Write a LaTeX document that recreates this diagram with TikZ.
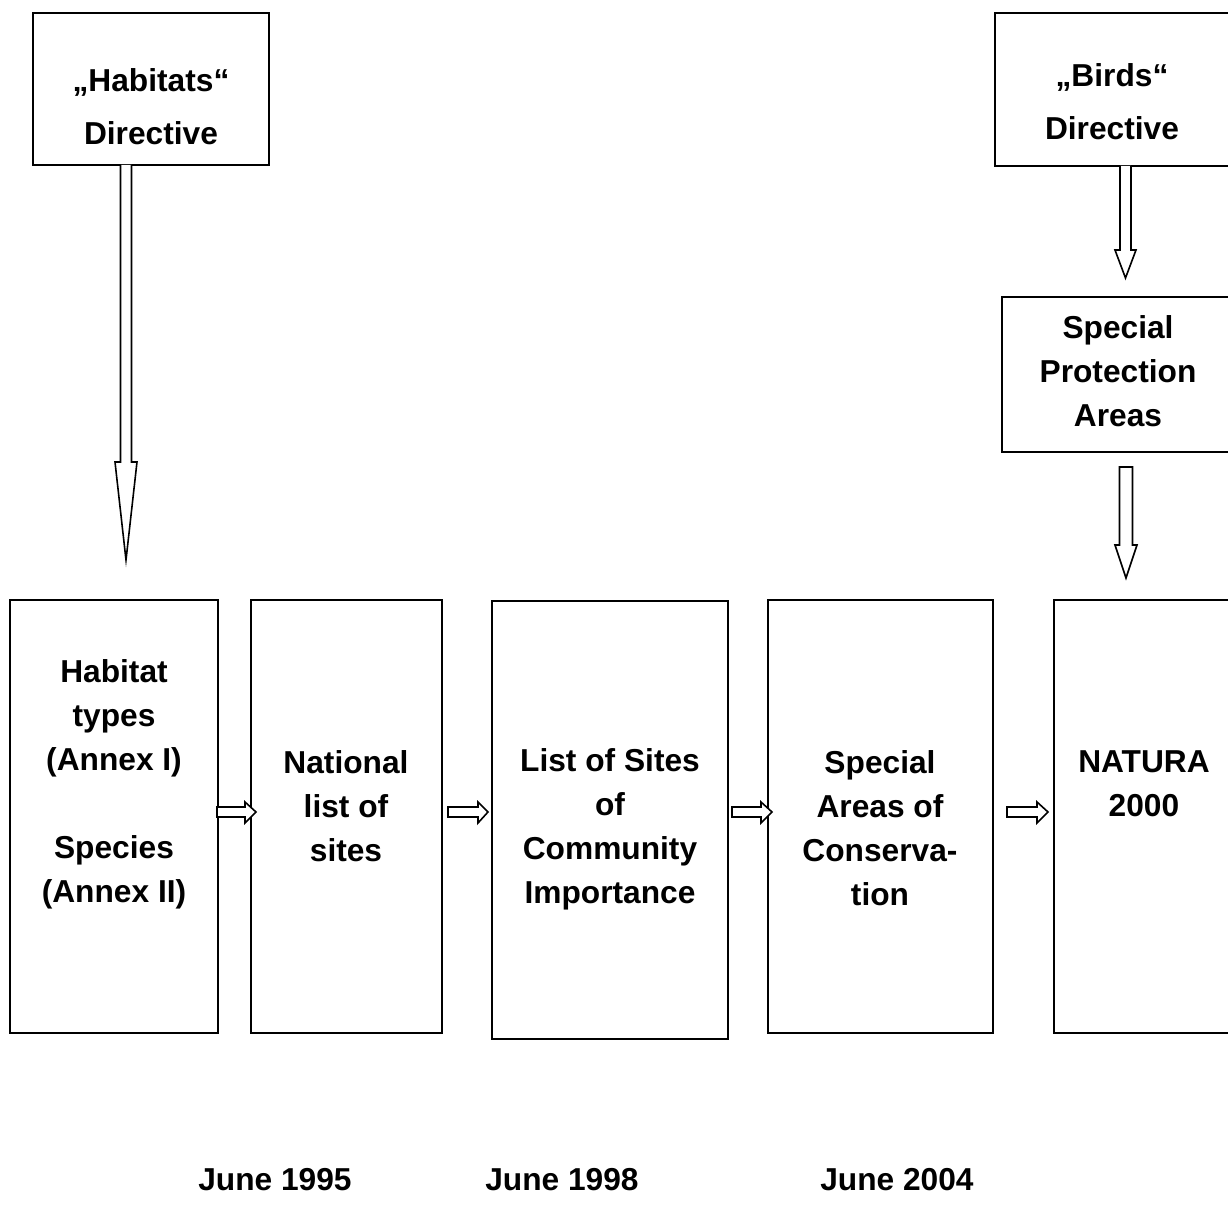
\documentclass[tikz,border=0pt]{standalone}
\usepackage{fontspec}
\setmainfont{Liberation Sans}
\begin{document}
\begin{tikzpicture}[x=0.5pt,y=-0.5pt,
  box/.style={draw=black,line width=0.8pt},
  lbl/.style={align=center,font=\bfseries\fontsize{15.85pt}{22pt}\selectfont,inner sep=0pt},
  lblw/.style={align=center,font=\bfseries\fontsize{15.85pt}{26.5pt}\selectfont,inner sep=0pt},
  blk/.style={draw=black,line width=0.8pt,fill=white,line join=miter}]
\useasboundingbox (0,0) rectangle (1228,1218);
\clip (0,0) rectangle (1228,1218);
% boxes
\draw[box] (33,13) rectangle (269,165) coordinate (habbox);
\draw[box] (995,13) rectangle (1240,166);
\draw[box] (1002,297) rectangle (1240,452);
\draw[box] (10,600) rectangle (218,1033);
\draw[box] (251,600) rectangle (442,1033);
\draw[box] (492,601) rectangle (728,1039);
\draw[box] (768,600) rectangle (993,1033);
\draw[box] (1054,600) rectangle (1240,1033);
% vertical block arrows
\draw[blk] (120.5,165) -- (120.5,462) -- (115,462) -- (126,560) -- (137,462) -- (131.5,462) -- (131.5,165);
\draw[blk] (1120,166) -- (1120,250) -- (1115,250) -- (1125.5,278) -- (1136,250) -- (1131,250) -- (1131,166);
\draw[blk] (1119.5,467) -- (1119.5,545) -- (1115,545) -- (1126,578) -- (1137,545) -- (1132.5,545) -- (1132.5,467) -- cycle;
% horizontal block arrows
\foreach \a/\b/\c in {217/245/256, 448/478/488, 732/761/772, 1007/1037/1048}{
  \draw[blk] (\a,807) -- (\b,807) -- (\b,802) -- (\c,812) -- (\b,823) -- (\b,817) -- (\a,817) -- cycle;
}
% texts
\node[lblw] (t1) at (151,106.5) {„Habitats“\\Directive};
\node[lblw] (t2) at (1112,102) {„Birds“\\Directive};
\node[lbl] (t3) at (1118,371) {Special\\Protection\\Areas};
\node[lbl] (b1) at (114,784) {Habitat\\types\\(Annex I)\\[22pt]Species\\(Annex II)};
\node[lbl] (b2) at (346,806) {National\\list of\\sites};
\node[lbl] (b3) at (610,829) {List of Sites\\of\\Community\\Importance};
\node[lbl] (b4) at (880,828) {Special\\Areas of\\Conserva-\\tion};
\node[lbl] (b5) at (1144,784) {NATURA\\2000};
\node[lbl] (d1) at (275,1180) {June 1995};
\node[lbl] (d2) at (562,1180) {June 1998};
\node[lbl] (d3) at (897,1180) {June 2004};
\end{tikzpicture}
\end{document}
